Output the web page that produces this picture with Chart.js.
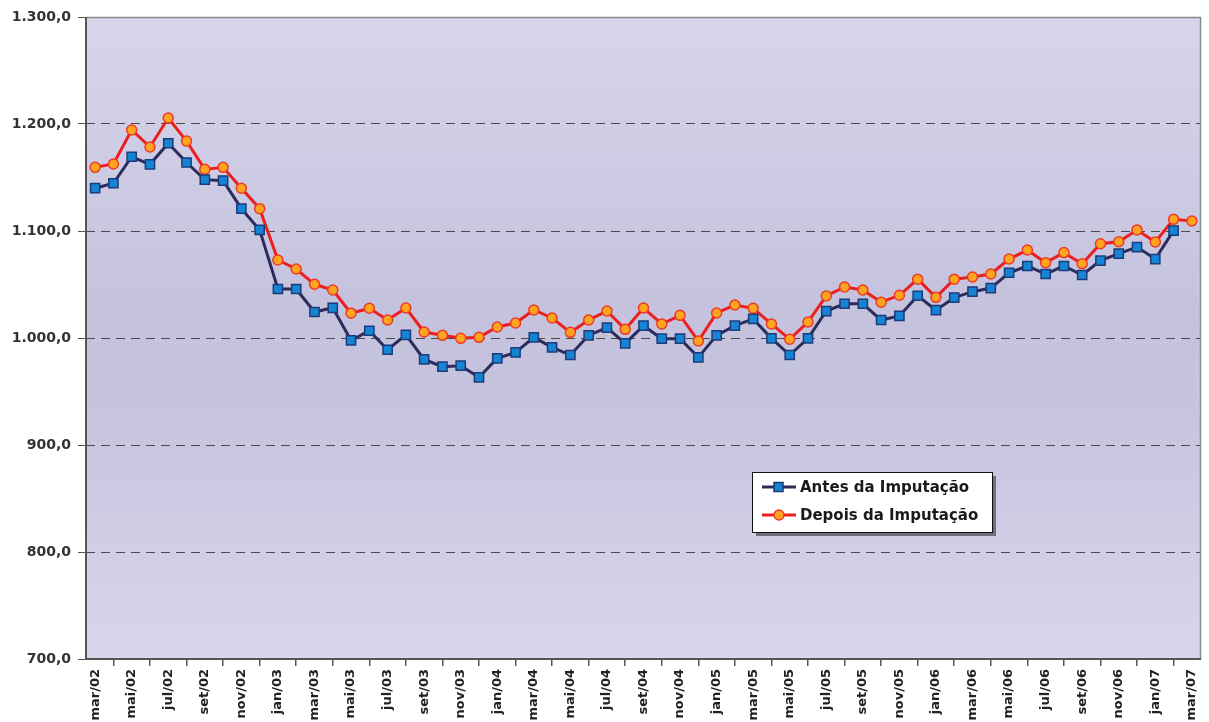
<!DOCTYPE html>
<html>
<head>
<meta charset="utf-8">
<script src="https://cdn.jsdelivr.net/npm/chart.js@4.4.1/dist/chart.umd.min.js"></script>
<style>
  html, body { margin: 0; padding: 0; background: #ffffff; }
  #wrap { position: relative; width: 1209px; height: 722px; }
</style>
</head>
<body>
<div id="wrap"><canvas id="c" width="1209" height="722"></canvas></div>
<script>
// ---- data ----
const months = ['jan','fev','mar','abr','mai','jun','jul','ago','set','out','nov','dez'];
const categories = [];
for (let y = 2; y <= 7; y++) {
  for (let m = 0; m < 12; m++) {
    if (y === 2 && m < 2) continue;
    if (y === 7 && m > 2) continue;
    categories.push(months[m] + '/0' + y);
  }
}
const seriesNames = ['Antes da Imputação', 'Depois da Imputação'];
const antes = [
  1140,1144.6,1169.4,1162.3,1182,1164,1148,1147,1120.9,1101,
  1045.8,1045.8,1024.3,1028.2,997.7,1006.8,989,1003,980,973.2,
  974.1,963.2,981,986.6,1000.6,991.3,984.1,1002.5,1009.7,995,
  1011.5,999.4,999.4,981.9,1002.5,1011.5,1017.8,999.7,984.1,999.7,
  1025.2,1032,1032,1016.8,1020.6,1039.5,1026,1037.7,1043.3,1046.7,
  1061,1067.3,1059.8,1067.3,1058.9,1072.3,1078.9,1085,1073.8,1100.3,
  null
];
const depois = [
  1159.5,1162.6,1194.4,1178.5,1205.6,1184,1157.6,1159.5,1139.9,1120.9,
  1072.9,1064.5,1050.2,1044.9,1023.2,1027.8,1016.8,1028,1005.6,1002.5,
  999.7,1000.6,1010.3,1014,1026.2,1018.7,1005.3,1016.8,1025.2,1008.1,
  1028,1013.1,1021.2,997.2,1023.4,1030.8,1027.7,1013.1,998.8,1015,
  1039.3,1047.7,1044.9,1033.5,1039.9,1055,1038,1055,1057,1059.8,
  1073.8,1082.2,1070.4,1079.8,1069.4,1088.1,1090,1101,1089.7,1110.9,
  1109.3
];
const yMin = 700, yMax = 1300, yStep = 100;

function fmt(v) {
  const s = v.toFixed(1).split('.');
  const int = s[0].replace(/\B(?=(\d{3})+(?!\d))/g, '.');
  return int + ',' + s[1];
}

const FONT = '"DejaVu Sans", "Liberation Sans", Arial, sans-serif';

const bgPlugin = {
  id: 'bg',
  beforeDraw(chart) {
    const {ctx, chartArea: a} = chart;
    const g = ctx.createLinearGradient(0, a.top, 0, a.bottom);
    g.addColorStop(0, '#d7d5ea');
    g.addColorStop(0.45, '#c5c2de');
    g.addColorStop(0.6, '#c6c3de');
    g.addColorStop(1, '#d8d6eb');
    ctx.save();
    ctx.fillStyle = g;
    ctx.fillRect(a.left, a.top, a.right - a.left, a.bottom - a.top);
    ctx.restore();
  },
  beforeDatasetsDraw(chart) {
    const {ctx, chartArea: a} = chart;
    ctx.save();
    ctx.strokeStyle = '#8a8a8a';
    ctx.lineWidth = 1.5;
    ctx.beginPath();
    ctx.moveTo(a.left, a.top + 0.5);
    ctx.lineTo(a.right - 0.5, a.top + 0.5);
    ctx.lineTo(a.right - 0.5, a.bottom);
    ctx.stroke();
    ctx.strokeStyle = '#555555';
    ctx.lineWidth = 2;
    ctx.beginPath();
    ctx.moveTo(a.left, a.top);
    ctx.lineTo(a.left, a.bottom);
    ctx.lineTo(a.right, a.bottom);
    ctx.stroke();
    ctx.restore();
  }
};

const legendPlugin = {
  id: 'customLegend',
  afterDraw(chart) {
    const ctx = chart.ctx;
    const x = 752, y = 472, w = 240, h = 60;
    ctx.save();
    ctx.fillStyle = '#6e6e80';
    ctx.fillRect(x + 4, y + 4, w, h);
    ctx.fillStyle = '#ffffff';
    ctx.fillRect(x, y, w, h);
    ctx.strokeStyle = '#111111';
    ctx.lineWidth = 1;
    ctx.strokeRect(x + 0.5, y + 0.5, w, h);
    chart.data.datasets.forEach((ds, i) => {
      const cy = y + 15 + i * 28;
      ctx.strokeStyle = ds.borderColor;
      ctx.lineWidth = 3;
      ctx.beginPath();
      ctx.moveTo(x + 10, cy);
      ctx.lineTo(x + 44, cy);
      ctx.stroke();
      ctx.fillStyle = ds.pointBackgroundColor;
      ctx.strokeStyle = ds.pointBorderColor;
      ctx.lineWidth = 1.5;
      if (ds.pointStyle === 'rect') {
        ctx.fillRect(x + 22, cy - 4.5, 9, 9);
        ctx.strokeRect(x + 22, cy - 4.5, 9, 9);
      } else {
        ctx.beginPath();
        ctx.arc(x + 27, cy, 5, 0, Math.PI * 2);
        ctx.fill();
        ctx.stroke();
      }
      ctx.fillStyle = '#1a1a1a';
      ctx.font = 'bold 15px ' + FONT;
      ctx.textBaseline = 'middle';
      ctx.textAlign = 'left';
      ctx.fillText(ds.label, x + 48, cy + 1);
    });
    ctx.restore();
  }
};

new Chart(document.getElementById('c'), {
  type: 'line',
  data: {
    labels: categories,
    datasets: [
      {
        label: seriesNames[0],
        data: antes,
        borderColor: '#2b2c5c',
        borderWidth: 3,
        pointStyle: 'rect',
        pointRadius: 6.5,
        pointBackgroundColor: '#1684d4',
        pointBorderColor: '#1d3b78',
        pointBorderWidth: 1.5,
        tension: 0,
        spanGaps: false
      },
      {
        label: seriesNames[1],
        data: depois,
        borderColor: '#ec1f1f',
        borderWidth: 3,
        pointStyle: 'circle',
        pointRadius: 5,
        pointBackgroundColor: '#ffa420',
        pointBorderColor: '#ef3a22',
        pointBorderWidth: 1.5,
        tension: 0
      }
    ]
  },
  options: {
    responsive: false,
    animation: false,
    devicePixelRatio: 1,
    layout: { padding: { top: 17, right: 8, left: 0, bottom: 0 } },
    plugins: {
      legend: { display: false },
      tooltip: { enabled: false }
    },
    scales: {
      x: {
        type: 'category',
        offset: true,
        afterFit(scale) { scale.height = 63; scale.paddingLeft = 0; scale.paddingRight = 0; },
        grid: {
          offset: true,
          drawOnChartArea: false,
          drawTicks: true,
          tickLength: 7,
          color: '#555555',
          lineWidth: 1.5
        },
        border: { display: false },
        ticks: {
          autoSkip: false,
          minRotation: 90,
          maxRotation: 90,
          padding: 3,
          color: '#222222',
          font: { family: FONT, size: 13, weight: 'bold' },
          callback(v, i) { return i % 2 === 0 ? categories[i] : null; }
        }
      },
      y: {
        min: yMin,
        max: yMax,
        afterFit(scale) { scale.width = 86; },
        grid: {
          color: '#4a4a4a',
          lineWidth: 1,
          tickLength: 8,
          tickColor: '#555555'
        },
        border: { display: false, dash: [9, 6] },
        ticks: {
          stepSize: yStep,
          padding: 7,
          color: '#333333',
          font: { family: FONT, size: 14, weight: 'bold' },
          callback(v) { return fmt(v); }
        }
      }
    }
  },
  plugins: [bgPlugin, legendPlugin]
});
</script>
</body>
</html>
